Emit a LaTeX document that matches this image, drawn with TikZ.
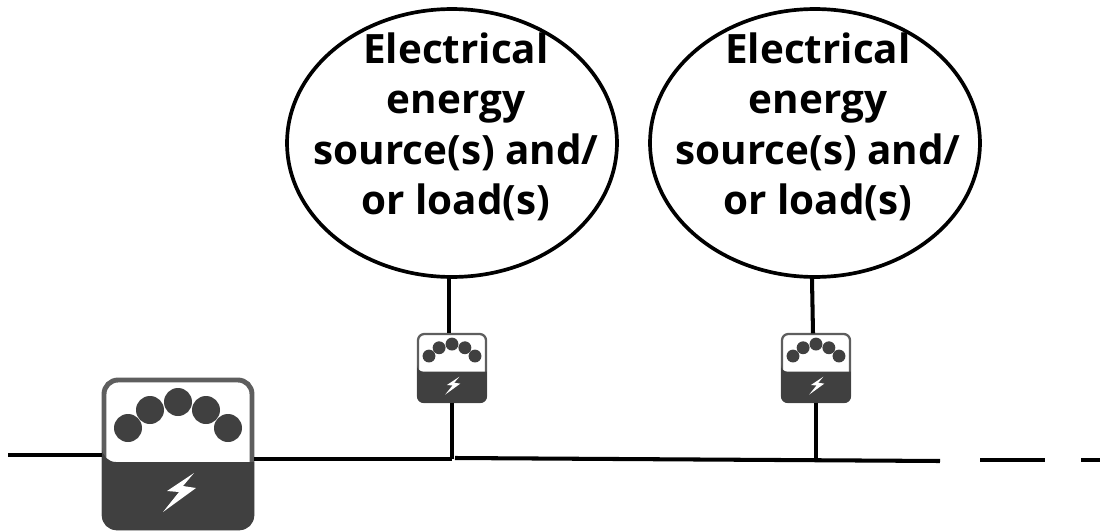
\documentclass[tikz,border=0pt]{standalone}
\usepackage{fontspec}
\setmainfont{Open Sans}
\usetikzlibrary{shapes.geometric}
\definecolor{meterdark}{HTML}{404040}
\definecolor{meterrim}{HTML}{5E5E5E}
\tikzset{
  srcellipse/.style={draw,ellipse,line width=2.1pt,minimum width=6.6cm,minimum height=5.36cm,inner sep=0pt},
  srclabel/.style={align=center,font=\bfseries\fontsize{23}{28.7}\selectfont,inner sep=0pt},
  wire/.style={line width=2.3pt},
  meter/.pic={
    \node[draw=meterrim,fill=white,line width=#1*2.8pt,rounded corners=#1*0.28cm,
          transform shape,minimum size=2.96cm,inner sep=0pt] (box) at (0,0) {};
    \fill[meterdark] (-76,8) -- (76,8) [rounded corners=#1*0.28cm] -- (76,76) -- (-76,76) -- (-76,8) -- cycle;
    \foreach \dx/\dy in {-50/-26,-28/-44,0/-52,28/-44,50/-26}
      \fill[meterdark] (\dx,\dy) circle (14);
    \fill[white] (16,19) -- (-11,37) -- (1,38) -- (-15,58) -- (18,34) -- (5,32) -- cycle;
  }
}
\begin{document}
\begin{tikzpicture}[x=0.02cm,y=-0.02cm]
  \useasboundingbox (0,0) rectangle (1100,531);
  % sources
  \node[srcellipse] (src1) at (452,143) {};
  \node[srcellipse] (src2) at (815,143) {};
  \node[srclabel] (txt1) at (456,127) {Electrical\\energy\\source(s) and/\\or load(s)};
  \node[srclabel] (txt2) at (818,127) {Electrical\\energy\\source(s) and/\\or load(s)};
  % meters
  \pic[scale=1] (main-) at (178,454) {meter=1};
  \pic[scale=0.46] (m1-) at (452,368) {meter=0.46};
  \pic[scale=0.46] (m2-) at (816,368) {meter=0.46};
  % trunk
  \coordinate (feed) at (8,455);
  \coordinate (j1) at (452,459);
  \coordinate (j1r) at (455,458);
  \coordinate (j2) at (816,460);
  \coordinate (end1) at (940,461);
  \coordinate (d1a) at (980,460);
  \coordinate (d1b) at (1045,460);
  \coordinate (d2a) at (1081,460);
  \coordinate (d2b) at (1100,460);
  \draw[wire] (feed) -- (feed -| main-box.west);
  \draw[wire] (j1 -| main-box.east) -- (j1);
  \draw[wire] (j1r) -- (end1);
  \draw[wire] (d1a) -- (d1b);
  \draw[wire] (d2a) -- (d2b);
  % branches
  \draw[wire] ([xshift=-0.06cm]src1.south) -- ([xshift=-0.06cm]m1-box.north);
  \draw[wire] (m1-box.south) -- (j1);
  \draw[wire] ([xshift=-0.06cm]src2.south) -- ([xshift=-0.06cm]m2-box.north);
  \draw[wire] (m2-box.south) -- (j2);
\end{tikzpicture}
\end{document}
